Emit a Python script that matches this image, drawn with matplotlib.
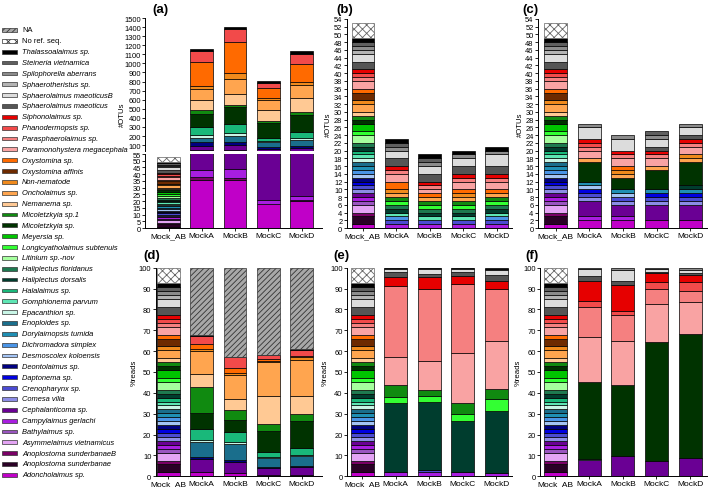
import numpy as np
import matplotlib
matplotlib.use('Agg')
import matplotlib.pyplot as plt
from matplotlib.patches import Rectangle

plt.rcParams['font.family'] = ['Liberation Sans', 'DejaVu Sans']
plt.rcParams['hatch.linewidth'] = 0.6

W, H = 709, 489

# legend order, top to bottom (bars stack in reverse order)
species = [
    'NA', 'No ref. seq.', 'Thalassoalaimus sp.', 'Steineria vietnamica',
    'Spilophorella aberrans', 'Sphaerotheristus sp.', 'Sphaerolaimus maeoticusB',
    'Sphaerolaimus maeoticus', 'Siphonolaimus sp.', 'Phanodermopsis sp.',
    'Parasphaerolaimus sp.', 'Paramonohystera megacephala', 'Oxystomina sp.',
    'Oxystomina affinis', 'Non-nematode', 'Oncholaimus sp.', 'Nemanema sp.',
    'Micoletzkyia sp.1', 'Micoletzkyia sp.', 'Meyersia sp.',
    'Longicyatholaimus subtenuis', 'Litinium sp.-nov', 'Haliplectus floridanus',
    'Haliplectus dorsalis', 'Halalaimus sp.', 'Gomphionema parvum',
    'Epacanthion sp.', 'Enoploides sp.', 'Dorylaimopsis tumida',
    'Dichromadora simplex', 'Desmoscolex koloensis', 'Deontolaimus sp.',
    'Daptonema sp.', 'Crenopharynx sp.', 'Comesa vilia', 'Cephalanticoma sp.',
    'Campylaimus gerlachi', 'Bathylaimus sp.', 'Asymmelaimus vietnamicus',
    'Anoplostoma sunderbanaeB', 'Anoplostoma sunderbanae', 'Adoncholaimus sp.']

colours = [
    '#a8a8a8', '#ffffff', '#000000', '#5f5f5f',
    '#8c8c8c', '#b4b4b4', '#dcdcdc',
    '#555555', '#e60000', '#f24a4a',
    '#f58080', '#f9a3a3', '#ff6a00',
    '#6e2a00', '#f08a1c', '#ffa54f', '#ffc994',
    '#108a10', '#003300', '#00c400',
    '#33ff33', '#a6ff9e', '#1e7a50',
    '#003d2e', '#19b87a', '#5ee6b4',
    '#c8f5e6', '#1a6e8c', '#1f8fb4',
    '#4a94e6', '#a4c4f4', '#000080',
    '#0000e0', '#4b4bd2', '#8c8ce6', '#6a0094',
    '#a81ee0', '#9a55c0', '#e4a4f4',
    '#7a0066', '#2a0026', '#c000c8']

hatches = {'NA': '//////', 'No ref. seq.': 'xxxx'}
upright = ['NA', 'No ref. seq.']

mocks = ['Mock_AB', 'MockA', 'MockB', 'MockC', 'MockD']

# OTUs per taxon in the designed mock (Mock_AB)
mock_ab_otus = {
    'No ref. seq.': 4, 'Thalassoalaimus sp.': 1, 'Steineria vietnamica': 1,
    'Spilophorella aberrans': 1, 'Sphaerotheristus sp.': 1,
    'Sphaerolaimus maeoticusB': 2, 'Sphaerolaimus maeoticus': 2,
    'Siphonolaimus sp.': 1, 'Phanodermopsis sp.': 1, 'Parasphaerolaimus sp.': 1,
    'Paramonohystera megacephala': 2, 'Oxystomina sp.': 1, 'Oxystomina affinis': 2,
    'Non-nematode': 1, 'Oncholaimus sp.': 2, 'Nemanema sp.': 1,
    'Micoletzkyia sp.1': 1, 'Micoletzkyia sp.': 1, 'Meyersia sp.': 2,
    'Longicyatholaimus subtenuis': 1, 'Litinium sp.-nov': 2,
    'Haliplectus floridanus': 1, 'Haliplectus dorsalis': 1, 'Halalaimus sp.': 1,
    'Gomphionema parvum': 1, 'Epacanthion sp.': 1, 'Enoploides sp.': 1,
    'Dorylaimopsis tumida': 1, 'Dichromadora simplex': 1,
    'Desmoscolex koloensis': 1, 'Deontolaimus sp.': 1, 'Daptonema sp.': 1,
    'Crenopharynx sp.': 1, 'Comesa vilia': 1, 'Cephalanticoma sp.': 1,
    'Campylaimus gerlachi': 1, 'Bathylaimus sp.': 1,
    'Asymmelaimus vietnamicus': 2, 'Anoplostoma sunderbanaeB': 1,
    'Anoplostoma sunderbanae': 2, 'Adoncholaimus sp.': 1}

# values for MockA, MockB, MockC, MockD
a_otus = {
    'Adoncholaimus sp.': [36, 36, 18, 20],
    'Anoplostoma sunderbanaeB': [2, 1, 0, 1],
    'Campylaimus gerlachi': [5, 7, 3, 3],
    'Cephalanticoma sp.': [43, 57, 36, 48],
    'Deontolaimus sp.': [44, 37, 26, 22],
    'Enoploides sp.': [52, 66, 47, 58],
    'Epacanthion sp.': [28, 28, 19, 22],
    'Halalaimus sp.': [85, 98, 33, 74],
    'Micoletzkyia sp.': [153, 187, 163, 189],
    'Micoletzkyia sp.1': [44, 30, 15, 30],
    'Nemanema sp.': [102, 113, 132, 153],
    'Oncholaimus sp.': [120, 172, 110, 146],
    'Non-nematode': [33, 66, 18, 30],
    'Oxystomina sp.': [268, 336, 110, 200],
    'Phanodermopsis sp.': [116, 146, 55, 110],
    'Thalassoalaimus sp.': [30, 25, 17, 29]}

b_otus = {
    'Campylaimus gerlachi': [1, 1, 1, 1],
    'Crenopharynx sp.': [1, 1, 1, 1],
    'Dichromadora simplex': [1, 0, 0, 1],
    'Gomphionema parvum': [1, 1, 1, 1],
    'Haliplectus dorsalis': [1, 1, 1, 1],
    'Haliplectus floridanus': [1, 1, 1, 1],
    'Longicyatholaimus subtenuis': [1, 1, 1, 1],
    'Micoletzkyia sp.1': [1, 1, 1, 1],
    'Oncholaimus sp.': [1, 1, 1, 1],
    'Non-nematode': [1, 0, 1, 0],
    'Oxystomina sp.': [2, 1, 1, 1],
    'Paramonohystera megacephala': [2, 1, 2, 2],
    'Parasphaerolaimus sp.': [1, 1, 1, 1],
    'Siphonolaimus sp.': [1, 1, 1, 1],
    'Sphaerolaimus maeoticus': [2, 2, 2, 2],
    'Sphaerolaimus maeoticusB': [2, 2, 2, 3],
    'Spilophorella aberrans': [1, 1, 1, 1],
    'Steineria vietnamica': [1, 1, 0, 0],
    'Thalassoalaimus sp.': [1, 1, 1, 1]}

c_otus = {
    'Adoncholaimus sp.': [2, 2, 2, 2],
    'Campylaimus gerlachi': [1, 1, 0, 0],
    'Cephalanticoma sp.': [4, 3, 4, 4],
    'Comesa vilia': [1, 1, 1, 1],
    'Crenopharynx sp.': [1, 1, 1, 1],
    'Daptonema sp.': [1, 0, 1, 1],
    'Desmoscolex koloensis': [1, 1, 0, 0],
    'Dorylaimopsis tumida': [1, 1, 1, 1],
    'Haliplectus dorsalis': [0, 0, 0, 1],
    'Micoletzkyia sp.': [5, 3, 5, 6],
    'Oncholaimus sp.': [1, 1, 1, 1],
    'Non-nematode': [0, 1, 0, 1],
    'Oxystomina sp.': [0, 1, 0, 0],
    'Paramonohystera megacephala': [2, 2, 2, 2],
    'Parasphaerolaimus sp.': [1, 1, 1, 1],
    'Phanodermopsis sp.': [1, 0, 0, 0],
    'Siphonolaimus sp.': [1, 1, 1, 1],
    'Sphaerolaimus maeoticus': [0, 0, 1, 1],
    'Sphaerolaimus maeoticusB': [3, 3, 2, 2],
    'Spilophorella aberrans': [1, 1, 1, 1],
    'Steineria vietnamica': [0, 0, 1, 0]}

d_reads = {
    'Adoncholaimus sp.': [2, 1.5, 0.5, 0.5],
    'Cephalanticoma sp.': [6.5, 5.5, 3.5, 3.8],
    'Deontolaimus sp.': [0.8, 0.8, 0.5, 0.6],
    'Enoploides sp.': [7, 7.7, 4.1, 4.7],
    'Epacanthion sp.': [1.1, 1, 0.6, 0.7],
    'Halalaimus sp.': [5.1, 4.5, 2.3, 3.1],
    'Micoletzkyia sp.': [7.9, 6.2, 10.4, 13.1],
    'Micoletzkyia sp.1': [12.6, 4.6, 3.1, 3.4],
    'Nemanema sp.': [6, 5.2, 13.7, 8.8],
    'Oncholaimus sp.': [11.2, 11.6, 15.9, 17.2],
    'Non-nematode': [0.8, 0.9, 0.6, 1.1],
    'Oxystomina sp.': [2.4, 2.5, 0.8, 0.8],
    'Phanodermopsis sp.': [4, 5, 2, 2.7],
    'Thalassoalaimus sp.': [0.3, 0.3, 0.2, 0.3],
    'NA': [32.3, 42.7, 41.8, 39.2]}

e_reads = {
    'Campylaimus gerlachi': [1.9, 2.3, 2, 1.5],
    'Crenopharynx sp.': [0, 0.8, 0, 0],
    'Haliplectus dorsalis': [33.2, 32.4, 24.5, 30],
    'Longicyatholaimus subtenuis': [2.9, 3.2, 3.5, 5.5],
    'Micoletzkyia sp.1': [6, 2.8, 5, 4.9],
    'Paramonohystera megacephala': [13, 13.9, 23.9, 23],
    'Parasphaerolaimus sp.': [34.2, 34.4, 33.1, 24.9],
    'Siphonolaimus sp.': [4.2, 5.9, 4.2, 4],
    'Sphaerolaimus maeoticus': [2.4, 1.3, 1.6, 2.7],
    'Sphaerolaimus maeoticusB': [1.7, 2.3, 1.5, 2.5],
    'Spilophorella aberrans': [0.3, 0.4, 0.4, 0.6],
    'Thalassoalaimus sp.': [0.2, 0.3, 0.3, 0.4]}

f_reads = {
    'Cephalanticoma sp.': [8, 9.6, 7.5, 8.6],
    'Desmoscolex koloensis': [0.5, 0, 0, 0],
    'Micoletzkyia sp.': [36.9, 34.2, 56.7, 59.4],
    'Oncholaimus sp.': [0, 0, 0.3, 0.4],
    'Paramonohystera megacephala': [21.6, 21.2, 18.1, 15],
    'Parasphaerolaimus sp.': [14.3, 12.5, 7.2, 5.6],
    'Phanodermopsis sp.': [2.9, 1.9, 3.2, 4],
    'Siphonolaimus sp.': [9.6, 12.5, 4.3, 3.5],
    'Sphaerolaimus maeoticus': [2, 1.6, 0.8, 1],
    'Sphaerolaimus maeoticusB': [3.7, 5.5, 1.3, 1.5],
    'Spilophorella aberrans': [0.5, 1, 0.6, 1]}


def pxAxes(fig, x0, x1, y0, y1):
    """ axes from pixel box (y measured from top) """
    return fig.add_axes([x0 / W, 1 - y1 / H, (x1 - x0) / W, (y1 - y0) / H])


def style(ax, fs=5.4):
    for s in ['top', 'right']:
        ax.spines[s].set_visible(False)
    for s in ['left', 'bottom']:
        ax.spines[s].set_linewidth(0.7)
    ax.tick_params(length=2, width=0.6, pad=1, labelsize=fs)


def stackBars(ax, table, percent=False, withAB=True):
    x = np.arange(5)
    bottom = np.zeros(5)
    abTotal = sum(mock_ab_otus.values())
    for name, col in zip(species[::-1], colours[::-1]):
        vals = np.zeros(5)
        if withAB:
            vals[0] = mock_ab_otus.get(name, 0)
            if percent:
                vals[0] = vals[0] / abTotal * 100
        vals[1:] = table.get(name, [0, 0, 0, 0])
        keep = vals > 0
        if not keep.any():
            bottom += vals
            continue
        hatch = hatches.get(name)
        edge = '#333333' if name == 'NA' else ('#666666' if hatch else 'black')
        ax.bar(x[keep], vals[keep], bottom=bottom[keep], width=0.68,
               color=col, edgecolor=edge, linewidth=0.5, hatch=hatch)
        bottom += vals


fig = plt.figure(figsize=(W / 100, H / 100), dpi=100)

# legend column
axLeg = fig.add_axes([0, 0, 130 / W, 1])
axLeg.set_xlim(0, 130)
axLeg.set_ylim(H, 0)
axLeg.axis('off')
for i, (name, col) in enumerate(zip(species, colours)):
    y = 31 + i * 10.85
    axLeg.add_patch(Rectangle((2, y - 1.9), 15, 3.8, facecolor=col,
                              edgecolor='#333333', linewidth=0.5,
                              hatch=hatches.get(name)))
    axLeg.text(22, y, name, fontsize=5.4, va='center', ha='left',
               style='normal' if name in upright else 'italic')

# (a) broken axis: upper and lower parts
axUp = pxAxes(fig, 145, 322, 19, 152)
axLo = pxAxes(fig, 145, 322, 155, 229)
stackBars(axUp, a_otus, withAB=False)
stackBars(axLo, a_otus)
axUp.set_ylim(35, 1500)
axUp.set_yticks(np.arange(100, 1501, 100))
axLo.set_ylim(0, 55)
axLo.set_yticks(np.arange(0, 56, 5))
for ax in (axUp, axLo):
    ax.set_xlim(-0.706, 4.61)
    style(ax)
axUp.spines['bottom'].set_visible(False)
axUp.set_xticks([])
axLo.set_xticks(range(5))
axLo.set_xticklabels(mocks, fontsize=6)
fig.text(122 / W, 1 - 115 / H, '#OTUs', rotation=90, fontsize=5.6,
         ha='center', va='center')

# (b), (c) OTU counts
panels = [
    (b_otus, 346.5, 512, -0.49, 4.46),
    (c_otus, 537.7, 707, -0.53, 4.50)]
for table, x0, x1, lo, hi in panels:
    ax = pxAxes(fig, x0, x1, 20, 229)
    stackBars(ax, table)
    ax.set_ylim(0, 54)
    ax.set_yticks(np.arange(0, 55, 2))
    ax.set_xlim(lo, hi)
    style(ax)
    ax.set_xticks(range(5))
    ax.set_xticklabels(mocks, fontsize=6)
    ax.set_ylabel('#OTUs', fontsize=5.6, labelpad=1)

# (d), (e), (f) % reads
panels = [
    (d_reads, 155.5, 322, -0.39, 4.61),
    (e_reads, 346.7, 512, -0.46, 4.47),
    (f_reads, 540, 707, -0.46, 4.50)]
for table, x0, x1, lo, hi in panels:
    ax = pxAxes(fig, x0, x1, 268.7, 477.3)
    stackBars(ax, table, percent=True)
    ax.set_ylim(0, 100)
    ax.set_yticks(np.arange(0, 101, 10))
    ax.set_xlim(lo, hi)
    style(ax)
    ax.set_xticks(range(5))
    ax.set_xticklabels(mocks, fontsize=6)
    ax.set_ylabel('%reads', fontsize=5.6, labelpad=1)

# panel letters
for letter, x, y in [('(a)', 152, 10), ('(b)', 336, 10), ('(c)', 522, 10),
                     ('(d)', 143, 256), ('(e)', 333, 256), ('(f)', 525, 256)]:
    fig.text(x / W, 1 - y / H, letter, fontsize=9.5, fontweight='bold',
             ha='left', va='center')

fig.savefig('out.png', dpi=100)
